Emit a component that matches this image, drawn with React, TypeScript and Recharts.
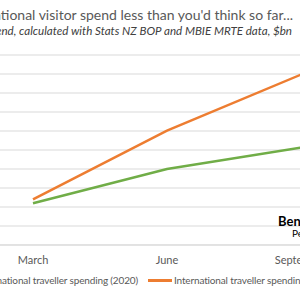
import { LineChart, Line, XAxis, YAxis, CartesianGrid } from 'recharts';

const months = ['March', 'June', 'September'];
const spend2020 = [2.2, 4.0, 5.13];
const spendNormal = [2.4, 6.02, 8.97];
const yTicks = [0, 1, 2, 3, 4, 5, 6, 7, 8, 9, 10];

const GREEN = '#70AD47';
const ORANGE = '#ED7D31';
const GRID = '#D9D9D9';
const FONT = 'Lato, "Open Sans", sans-serif';

const chartData = months.map((m, i) => ({
  month: m,
  y2020: spend2020[i],
  normal: spendNormal[i]
}));

const LegendItem = ({ color, label }: { color: string; label: string }) => (
  <div style={{ display: 'flex', alignItems: 'center', whiteSpace: 'nowrap' }}>
    <span style={{ display: 'inline-block', width: 24, height: 3, background: color, marginRight: 2 }} />
    <span>{label}</span>
  </div>
);

export default function App() {
  return (
    <div
      style={{
        position: 'absolute',
        top: 0,
        left: 0,
        width: 300,
        height: 300,
        overflow: 'hidden',
        background: '#fff',
        fontFamily: FONT
      }}
    >
      <div
        style={{
          position: 'absolute',
          right: 7,
          top: 6,
          fontSize: 14,
          color: '#595959',
          whiteSpace: 'nowrap'
        }}
      >
        International visitor spend less than you'd think so far...
      </div>
      <div
        style={{
          position: 'absolute',
          right: 8,
          top: 24,
          fontSize: 11.6,
          fontStyle: 'italic',
          color: '#404040',
          whiteSpace: 'nowrap'
        }}
      >
        Cumulative spend, calculated with Stats NZ BOP and MBIE MRTE data, $bn
      </div>

      <div style={{ position: 'absolute', left: -34, top: 0 }}>
        <LineChart width={402} height={270} data={chartData} margin={{ top: 55, right: 0, bottom: 0, left: 0 }}>
          <CartesianGrid vertical={false} stroke={GRID} strokeWidth={1} />
          <XAxis
            dataKey="month"
            height={25}
            padding={{ left: 67, right: 67 }}
            axisLine={{ stroke: GRID }}
            tickLine={false}
            tickMargin={5}
            tick={{ fill: '#595959', fontSize: 11, fontFamily: FONT }}
            interval={0}
          />
          <YAxis hide domain={[0, 10]} ticks={yTicks} interval={0} />
          <Line
            type="linear"
            dataKey="y2020"
            stroke={GREEN}
            strokeWidth={2.5}
            dot={false}
            isAnimationActive={false}
          />
          <Line
            type="linear"
            dataKey="normal"
            stroke={ORANGE}
            strokeWidth={2.5}
            dot={false}
            isAnimationActive={false}
          />
        </LineChart>
      </div>

      <div
        style={{
          position: 'absolute',
          left: 278,
          top: 214,
          fontSize: 13,
          fontWeight: 'bold',
          color: '#000',
          whiteSpace: 'nowrap',
          lineHeight: '15px'
        }}
      >
        Benje Patterson
      </div>
      <div
        style={{
          position: 'absolute',
          left: 292,
          top: 227,
          fontSize: 10,
          color: '#000',
          whiteSpace: 'nowrap',
          lineHeight: '12px'
        }}
      >
        People &amp; Places
      </div>

      <div
        style={{
          position: 'absolute',
          right: 162,
          top: 274,
          fontSize: 10,
          letterSpacing: -0.15,
          color: '#595959'
        }}
      >
        <LegendItem color={GREEN} label="International traveller spending (2020)" />
      </div>
      <div
        style={{
          position: 'absolute',
          left: 148,
          top: 274,
          fontSize: 10,
          letterSpacing: -0.15,
          color: '#595959'
        }}
      >
        <LegendItem color={ORANGE} label="International traveller spending (2019)" />
      </div>
    </div>
  );
}
